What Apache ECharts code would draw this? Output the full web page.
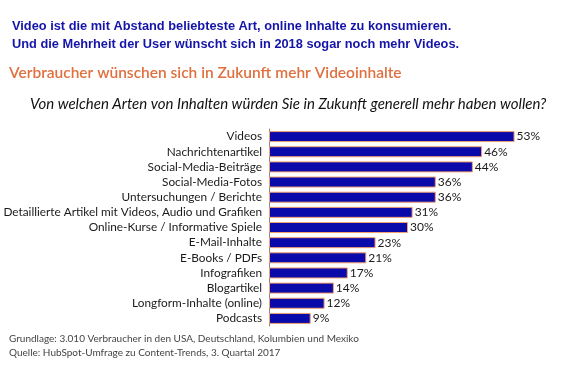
<!DOCTYPE html>
<html><head><meta charset="utf-8">
<script src="https://cdn.jsdelivr.net/npm/echarts@6/dist/echarts.min.js"></script>
<style>html,body{margin:0;padding:0;background:#fff}#c{width:574px;height:367px}</style>
</head><body><div id="c"></div>
<script>
const categories = ["Videos","Nachrichtenartikel","Social-Media-Beiträge","Social-Media-Fotos","Untersuchungen / Berichte","Detaillierte Artikel mit Videos, Audio und Grafiken","Online-Kurse / Informative Spiele","E-Mail-Inhalte","E-Books / PDFs","Infografiken","Blogartikel","Longform-Inhalte (online)","Podcasts"];
const values = [53,46,44,36,36,31,30,23,21,17,14,12,9];
const headline1 = "Video ist die mit Abstand beliebteste Art, online Inhalte zu konsumieren.";
const headline2 = "Und die Mehrheit der User wünscht sich in 2018 sogar noch mehr Videos.";
const title = "Verbraucher wünschen sich in Zukunft mehr Videoinhalte";
const question = "Von welchen Arten von Inhalten würden Sie in Zukunft generell mehr haben wollen?";
const note1 = "Grundlage: 3.010 Verbraucher in den USA, Deutschland, Kolumbien und Mexiko";
const note2 = "Quelle: HubSpot-Umfrage zu Content-Trends, 3. Quartal 2017";

const chart = echarts.init(document.getElementById('c'));
chart.setOption({
  animation: false,
  graphic: [
    {type:'text', left:12, top:20, style:{text:headline1, font:'bold 12.8px "Liberation Sans", Arial', fill:'#1414a8'}},
    {type:'text', left:12, top:38, style:{text:headline2, font:'bold 12.8px "Liberation Sans", Arial', fill:'#1414a8'}},
    {type:'text', left:9, top:65, style:{text:title, font:'600 15.5px Lato, "Open Sans"', fill:'#e0703f'}},
    {type:'text', left:30, top:97, style:{text:question, font:'italic 15px Lato, "Open Sans"', fill:'#111'}},
    {type:'text', left:9, top:334, style:{text:note1, font:'10px Lato, "Open Sans"', fill:'#444'}},
    {type:'text', left:9, top:348, style:{text:note2, font:'10px Lato, "Open Sans"', fill:'#444'}}
  ],
  grid: {left:269, top:129, width:278, height:197, containLabel:false, outerBoundsMode:'none'},
  xAxis: {type:'value', min:0, max:60, show:false},
  yAxis: {type:'category', data:categories, inverse:true,
    axisLine:{show:true, lineStyle:{color:'#888', width:1}},
    axisTick:{show:false},
    axisLabel:{interval:0, color:'#1a1a1a', fontSize:11.8, fontFamily:'Lato, "Open Sans"', margin:7}},
  series: [{type:'bar', data:values, barWidth:11,
    itemStyle:{color:'#0a0aaa', borderColor:'#f2a070', borderWidth:1},
    label:{show:true, position:'right', formatter:'{c}%', color:'#1a1a1a', fontSize:12, fontFamily:'Lato, "Open Sans"', distance:2}}]
});
</script></body></html>
